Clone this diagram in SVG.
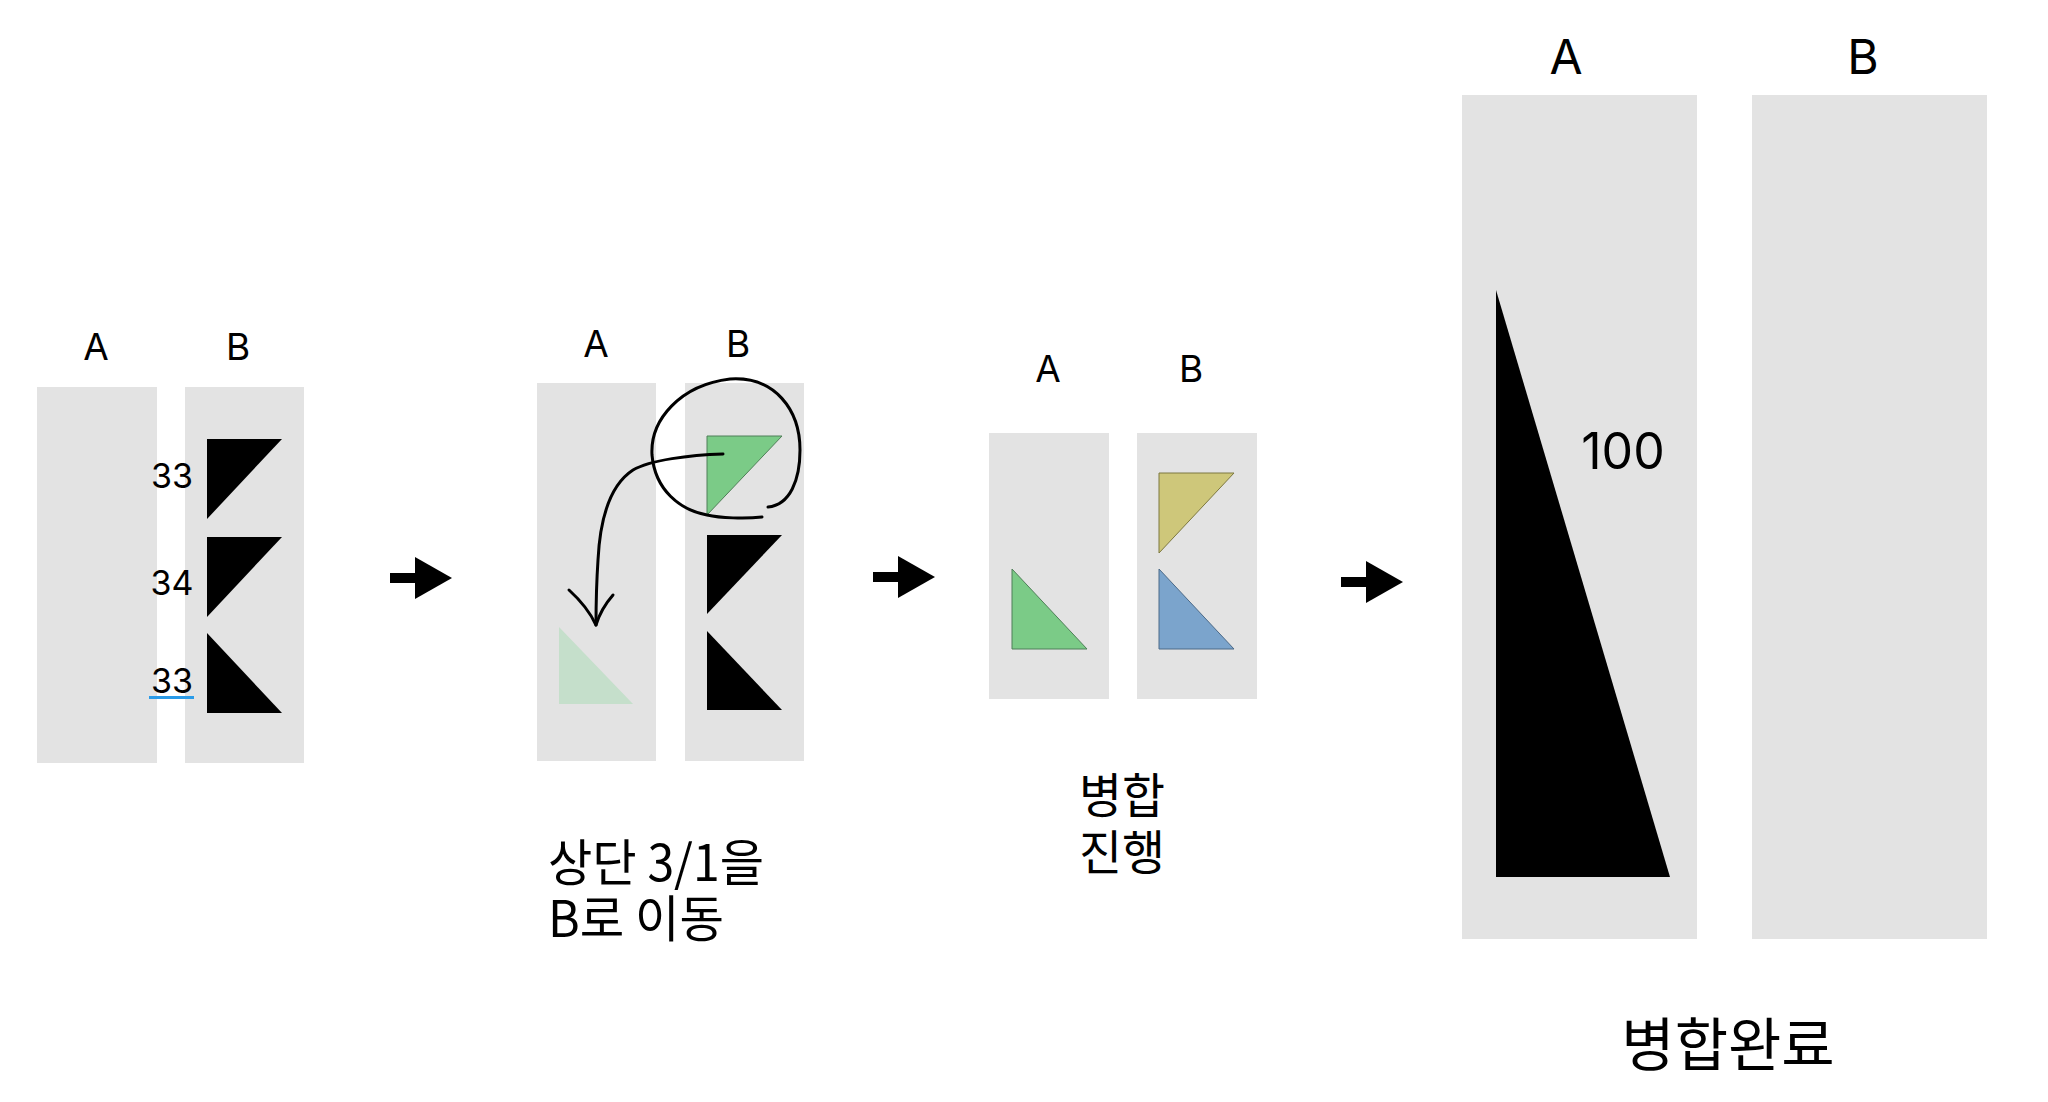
<svg xmlns="http://www.w3.org/2000/svg" width="2048" height="1102" viewBox="0 0 2048 1102">
<defs>
<style>
.col{fill:#e3e3e3}
.lbl{font-family:Inter,"Liberation Sans",sans-serif;fill:#000;text-anchor:middle}
.kr{font-family:"Noto Sans CJK KR","Noto Sans",sans-serif;fill:#000}
.blk{fill:#000}
.grn{fill:#7bcb87;stroke:#4f7f58;stroke-width:1}
.ink{fill:none;stroke:#000;stroke-width:3;stroke-linecap:round;stroke-linejoin:round}
</style>
<g id="bigArrow"><rect x="0" y="-5" width="28" height="10"/><polygon points="25,-21 62,0 25,21"/></g>
</defs>
<rect width="2048" height="1102" fill="#fff"/>

<g id="panel1">
<text class="lbl" x="96" y="360" font-size="37">A</text>
<text class="lbl" x="238" y="360" font-size="37">B</text>
<rect class="col" x="37" y="387" width="120" height="376"/>
<rect class="col" x="185" y="387" width="119" height="376"/>
<polygon class="blk" points="207,439 282,439 207,519"/>
<polygon class="blk" points="207,537 282,537 207,617"/>
<polygon class="blk" points="207,633 207,713 282,713"/>
<text class="lbl" x="172" y="488" font-size="34">33</text>
<text class="lbl" x="172" y="595" font-size="34">34</text>
<text class="lbl" x="172" y="693" font-size="34">33</text>
<rect x="149" y="696" width="45" height="3" fill="#2a9be8"/>
</g>

<g id="panel2">
<text class="lbl" x="596" y="357" font-size="37">A</text>
<text class="lbl" x="738" y="357" font-size="37">B</text>
<rect class="col" x="537" y="383" width="119" height="378"/>
<rect class="col" x="685" y="383" width="119" height="378"/>
<polygon fill="#c5dfcb" points="559,627 559,704 633,704"/>
<polygon class="grn" points="707,436 782,436 707,515"/>
<polygon class="blk" points="707,535 782,535 707,614"/>
<polygon class="blk" points="707,631 707,710 782,710"/>
<path class="ink" d="M762,517 C745,519 720,518 707,515 C680,510 655,490 652,455 C650,420 680,385 730,379 C775,376 800,410 800,450 C800,480 790,505 768,507"/>
<text class="kr" font-size="50"><tspan x="548" y="881" textLength="216" lengthAdjust="spacingAndGlyphs">상단 3/1을</tspan><tspan x="548" y="937" textLength="176" lengthAdjust="spacingAndGlyphs">B로 이동</tspan></text>
</g>

<g id="panel3">
<text class="lbl" x="1048" y="382" font-size="37">A</text>
<text class="lbl" x="1191" y="382" font-size="37">B</text>
<rect class="col" x="989" y="433" width="120" height="266"/>
<rect class="col" x="1137" y="433" width="120" height="266"/>
<polygon class="grn" points="1012,569 1012,649 1087,649"/>
<polygon fill="#cec77a" stroke="#7d7840" stroke-width="1" points="1159,473 1234,473 1159,553"/>
<polygon fill="#7ba4cc" stroke="#4c6a88" stroke-width="1" points="1159,569 1159,649 1234,649"/>
<text class="kr" font-size="48"><tspan x="1079" y="813" textLength="86" lengthAdjust="spacingAndGlyphs">병합</tspan><tspan x="1079" y="870" textLength="86" lengthAdjust="spacingAndGlyphs">진행</tspan></text>
</g>

<g id="panel4">
<text class="lbl" x="1566" y="74" font-size="48">A</text>
<text class="lbl" x="1863" y="74" font-size="48">B</text>
<rect class="col" x="1462" y="95" width="235" height="844"/>
<rect class="col" x="1752" y="95" width="235" height="844"/>
<polygon class="blk" points="1496,290 1496,877 1670,877"/>
<text class="lbl" x="1623" y="469" font-size="50">100</text>
<text class="kr" x="1728" y="1066" font-size="58" text-anchor="middle">병합완료</text>
</g>

<g id="connectors">
<use href="#bigArrow" x="390" y="578"/>
<use href="#bigArrow" x="873" y="577"/>
<use href="#bigArrow" x="1341" y="582"/>
<path class="ink" d="M723,454 C690,455 650,460 633,470 C610,485 600,520 598,560 C596,590 596,610 596,625"/>
<path class="ink" d="M569,590 C580,600 590,612 596,625 C600,612 606,603 613,595"/>
</g>
</svg>
